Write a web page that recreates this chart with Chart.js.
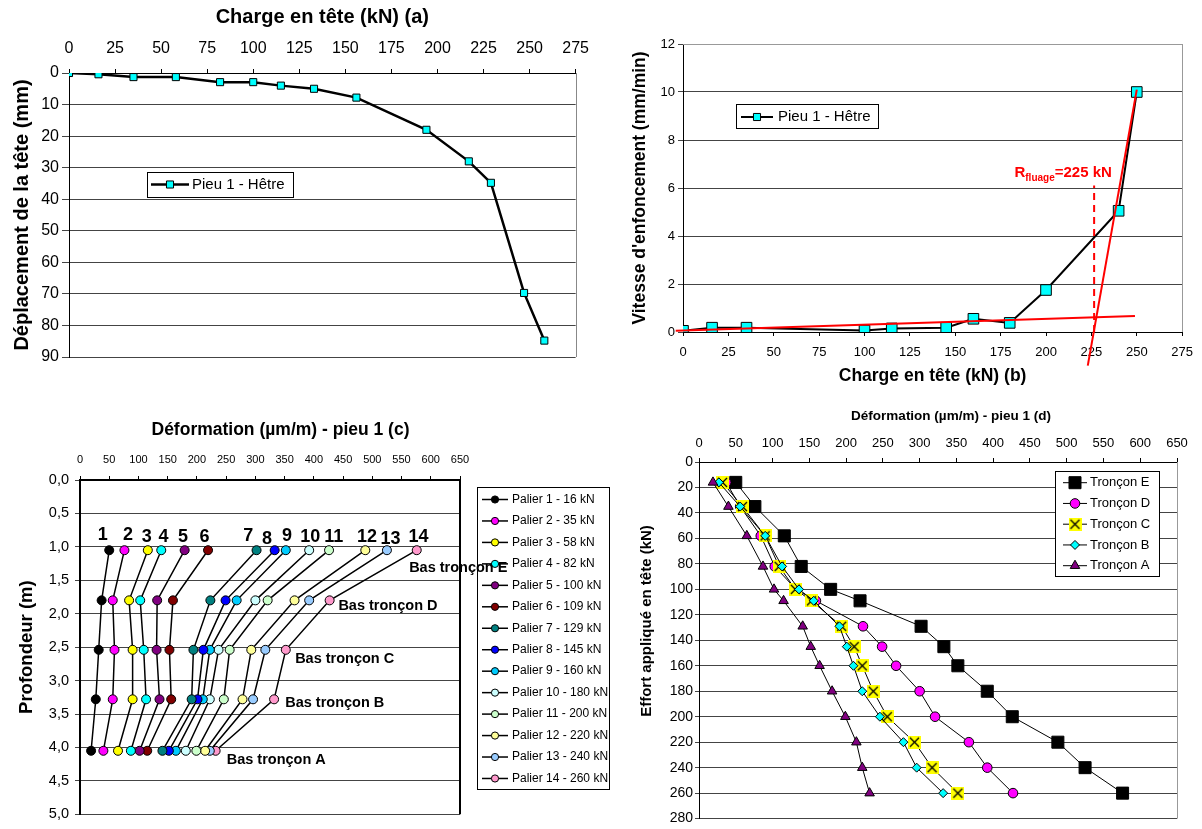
<!DOCTYPE html>
<html lang="fr">
<head>
<meta charset="utf-8">
<title>Pieu 1 - Hêtre</title>
<script src="https://cdn.jsdelivr.net/npm/chart.js@4.4.1/dist/chart.umd.min.js"></script>
<style>
  body { margin: 0; background: #fff; }
  #page { position: relative; width: 1202px; height: 829px; overflow: hidden; background: #fff; }
  canvas { position: absolute; }
</style>
</head>
<body>
<div id="page">
  <canvas id="chartA" width="600" height="375" style="left:0;top:0"></canvas>
  <canvas id="chartB" width="602" height="400" style="left:600px;top:0"></canvas>
  <canvas id="chartC" width="620" height="429" style="left:0;top:400px"></canvas>
  <canvas id="chartD" width="582" height="429" style="left:620px;top:400px"></canvas>
</div>
<script>
// (a) enfoncement en tête
const loadA = [0, 16, 35, 58, 82, 100, 115, 133, 156, 194, 217, 229, 247, 258];
const settleA = [0, 0.4, 1.3, 1.3, 2.9, 2.9, 4.0, 5.0, 7.8, 18, 28, 34.8, 69.7, 84.8];

// (b) vitesse d'enfoncement
const loadB = [0, 16, 35, 100, 115, 145, 160, 180, 200, 240, 250];
const speedB = [0.05, 0.18, 0.18, 0.06, 0.15, 0.18, 0.55, 0.38, 1.75, 5.05, 10];
const fitLow = [[-4, 0.05], [249, 0.67]];
const fitHigh = [[223, -1.4], [250, 10.1]];
const rFluage = 226.5;

// (c) / (d) deformations par palier et par tronçon
const paliers = [16, 35, 58, 82, 100, 109, 129, 145, 160, 180, 200, 220, 240, 260];
const palierColors = ["#000000", "#FF00FF", "#FFFF00", "#00FFFF", "#800080", "#800000", "#008080",
  "#0000FF", "#00CCFF", "#CCFFFF", "#CCFFCC", "#FFFF99", "#99CCFF", "#FF99CC"];
const troncons = ["E", "D", "C", "B", "A"];
const depths = [1.05, 1.8, 2.54, 3.28, 4.05];
const strainE = [50, 76, 116, 139, 179, 219, 302, 333, 352, 392, 426, 488, 525, 576];
const strainD = [37, 56, 84, 103, 132, 159, 223, 249, 268, 300, 321, 367, 392, 427];
const strainC = [32, 59, 90, 109, 131, 153, 194, 211, 222, 237, 256, 293, 317, 352];
const strainB = [27, 56, 90, 113, 136, 156, 191, 201, 210, 222, 246, 278, 296, 332];
const strainA = [19, 40, 65, 87, 102, 115, 141, 152, 164, 181, 199, 214, 222, 232];
const strains = [strainE, strainD, strainC, strainB, strainA];
// where the palier numbers sit above the top row (x in µm/m, depth in m)
const numLabelX = [39, 82, 114, 143, 176, 213, 288, 320, 354, 394, 434, 491, 531, 579];
const numLabelDepth = [0.82, 0.83, 0.86, 0.86, 0.86, 0.86, 0.84, 0.89, 0.84, 0.86, 0.86, 0.86, 0.89, 0.86];

Chart.defaults.font.family = '"Liberation Sans", Arial, sans-serif';
Chart.defaults.color = "#000";

const FONT = '"Liberation Sans", Arial, sans-serif';

function drawMarker(ctx, style, x, y, r, fill, stroke, bw) {
  ctx.save();
  if (style instanceof HTMLCanvasElement) {
    ctx.drawImage(style, x - style.width / 2, y - style.height / 2);
    ctx.restore();
    return;
  }
  ctx.fillStyle = fill;
  ctx.strokeStyle = stroke;
  ctx.lineWidth = bw;
  ctx.beginPath();
  if (style === "rect") {
    const s = r * Math.SQRT1_2;
    ctx.rect(x - s, y - s, 2 * s, 2 * s);
  } else if (style === "rectRot") {
    ctx.moveTo(x - r, y); ctx.lineTo(x, y - r); ctx.lineTo(x + r, y); ctx.lineTo(x, y + r); ctx.closePath();
  } else if (style === "triangle") {
    ctx.moveTo(x, y - r); ctx.lineTo(x + r * 0.866, y + r / 2); ctx.lineTo(x - r * 0.866, y + r / 2); ctx.closePath();
  } else {
    ctx.arc(x, y, r, 0, Math.PI * 2);
  }
  ctx.fill();
  if (bw > 0) ctx.stroke();
  ctx.restore();
}

// yellow box with a black cross (Tronçon C)
function crossBox(size) {
  const c = document.createElement("canvas");
  c.width = size; c.height = size;
  const g = c.getContext("2d");
  g.fillStyle = "#FFFF00";
  g.fillRect(0, 0, size, size);
  g.strokeStyle = "#000";
  g.lineWidth = 1.3;
  g.beginPath();
  g.moveTo(2, 2); g.lineTo(size - 2, size - 2);
  g.moveTo(size - 2, 2); g.lineTo(2, size - 2);
  g.stroke();
  return c;
}

// legends, frames, titles and texts, per canvas
const extras = {};

const overlay = {
  id: "overlay",
  beforeDatasetsDraw(chart) {
    const ex = extras[chart.canvas.id];
    if (!ex || !ex.frame) return;
    const { left, right, top, bottom } = chart.chartArea;
    const ctx = chart.ctx;
    ctx.save();
    ctx.strokeStyle = ex.frame.color;
    ctx.lineWidth = ex.frame.width;
    ctx.beginPath();
    const off = ex.frame.width % 2 ? 0.5 : 0;
    if (ex.frame.sides.includes("right")) { ctx.moveTo(Math.round(right) + off, top); ctx.lineTo(Math.round(right) + off, bottom); }
    if (ex.frame.sides.includes("top")) { ctx.moveTo(left, Math.round(top) + off); ctx.lineTo(right, Math.round(top) + off); }
    if (ex.frame.sides.includes("bottom")) { ctx.moveTo(left, Math.round(bottom) + off); ctx.lineTo(right, Math.round(bottom) + off); }
    ctx.stroke();
    ctx.restore();
  },
  afterDatasetsDraw(chart) {
    const ex = extras[chart.canvas.id];
    if (!ex || !ex.legend) return;
    const L = ex.legend;
    const ctx = chart.ctx;
    ctx.save();
    ctx.fillStyle = "#fff";
    ctx.fillRect(L.x, L.y, L.w, L.h);
    ctx.strokeStyle = "#000";
    ctx.lineWidth = 1;
    ctx.strokeRect(L.x + 0.5, L.y + 0.5, L.w, L.h);
    ctx.font = L.font;
    ctx.textBaseline = "middle";
    ctx.textAlign = "left";
    let k = 0;
    chart.data.datasets.forEach((ds) => {
      if (ds.noLegend) return;
      const y = L.y0 + k * L.dy;
      ctx.strokeStyle = ds.borderColor;
      ctx.lineWidth = ds.borderWidth;
      ctx.beginPath();
      ctx.moveTo(L.lx0, y); ctx.lineTo(L.lx1, y);
      ctx.stroke();
      drawMarker(ctx, ds.pointStyle, L.mx, y, L.r || ds.pointRadius,
        ds.pointBackgroundColor, ds.pointBorderColor, ds.pointBorderWidth);
      ctx.fillStyle = "#000";
      ctx.fillText(ds.label, L.tx, y);
      k++;
    });
    ctx.restore();
  },
  afterDraw(chart) {
    const ex = extras[chart.canvas.id];
    if (!ex) return;
    const ctx = chart.ctx;
    const sx = chart.scales.x, sy = chart.scales.y;
    ctx.save();
    (ex.titles || []).forEach((t) => {
      ctx.save();
      ctx.translate(t.px, t.py);
      if (t.rotate) ctx.rotate(t.rotate);
      ctx.font = t.font;
      ctx.fillStyle = "#000";
      ctx.textAlign = "center";
      ctx.textBaseline = "middle";
      ctx.fillText(t.text, 0, 0);
      ctx.restore();
    });
    (ex.texts || []).forEach((t) => {
      let px = sx.getPixelForValue(t.x);
      const py = sy.getPixelForValue(t.y);
      ctx.fillStyle = t.color || "#000";
      ctx.textAlign = t.align || "left";
      ctx.textBaseline = t.baseline || "middle";
      if (t.parts) {
        t.parts.forEach((p) => {
          ctx.font = p.font;
          ctx.fillText(p.text, px, py + (p.dy || 0));
          px += ctx.measureText(p.text).width;
        });
      } else {
        ctx.font = t.font;
        ctx.fillText(t.text, px, py);
      }
    });
    ctx.restore();
  }
};
Chart.register(overlay);

const base = {
  responsive: false,
  animation: false,
  events: [],
  plugins: { legend: { display: false }, tooltip: { enabled: false } }
};

// ---------- (a) ----------
extras.chartA = {
  frame: { color: "#888", width: 1, sides: ["right"] },
  legend: { x: 147, y: 172, w: 146, h: 25, y0: 184.5, dy: 0, lx0: 151, lx1: 189, mx: 170, tx: 192,
    r: 5, font: "15px " + FONT }
};
new Chart(document.getElementById("chartA"), {
  type: "scatter",
  data: {
    datasets: [{
      label: "Pieu 1 - Hêtre",
      data: loadA.map((x, i) => ({ x, y: settleA[i] })),
      showLine: true,
      borderColor: "#000",
      borderWidth: 2.5,
      pointStyle: "rect",
      pointRadius: 5,
      pointBackgroundColor: "#00FFFF",
      pointBorderColor: "#000",
      pointBorderWidth: 1
    }]
  },
  options: {
    ...base,
    layout: { padding: { top: 0, left: 0, right: 15, bottom: 18 } },
    scales: {
      x: {
        type: "linear", position: "top", min: 0, max: 275,
        ticks: { stepSize: 25, font: { size: 16 }, padding: 11, maxRotation: 0, autoSkip: false },
        grid: { drawOnChartArea: false, tickLength: 4, color: "#000" },
        border: { color: "#000" },
        title: { display: true, text: "Charge en tête (kN) (a)", font: { size: 20, weight: "bold" }, padding: { top: 5, bottom: 0 } },
        afterFit: (s) => { s.height = 73; }
      },
      y: {
        type: "linear", reverse: true, min: 0, max: 90,
        ticks: { stepSize: 10, font: { size: 16 }, padding: 3 },
        grid: { color: "#444", tickLength: 7 },
        border: { color: "#000" },
        title: { display: true, text: "Déplacement de la tête (mm)", font: { size: 20, weight: "bold" }, padding: { top: 10, bottom: 0 } },
        afterFit: (s) => { s.width = 69; }
      }
    }
  }
});

// ---------- (b) ----------
const redLine = {
  showLine: true, borderColor: "#FF0000", borderWidth: 2, pointRadius: 0,
  clip: false, noLegend: true, order: 0
};
extras.chartB = {
  frame: { color: "#999", width: 1, sides: ["right", "top"] },
  legend: { x: 136, y: 104, w: 142, h: 24, y0: 117, dy: 0, lx0: 141, lx1: 173, mx: 157, tx: 178,
    r: 5, font: "15px " + FONT },
  texts: [{
    x: 182.6, y: 6.46, color: "#FF0000", baseline: "alphabetic",
    parts: [
      { text: "R", font: "bold 15px " + FONT },
      { text: "fluage", font: "bold 10px " + FONT, dy: 4 },
      { text: "=225 kN", font: "bold 15px " + FONT }
    ]
  }]
};
new Chart(document.getElementById("chartB"), {
  type: "scatter",
  data: {
    datasets: [
      { ...redLine, label: "fit haut", data: fitHigh.map(([x, y]) => ({ x, y })) },
      { ...redLine, label: "fit bas", data: fitLow.map(([x, y]) => ({ x, y })) },
      { ...redLine, label: "R fluage", borderDash: [7, 5], data: [{ x: rFluage, y: 0 }, { x: rFluage, y: 6.1 }] },
      {
        label: "Pieu 1 - Hêtre",
        data: loadB.map((x, i) => ({ x, y: speedB[i] })),
        showLine: true,
        borderColor: "#000",
        borderWidth: 2,
        pointStyle: "rect",
        pointRadius: 7.5,
        pointBackgroundColor: "#00FFFF",
        pointBorderColor: "#000",
        pointBorderWidth: 1,
        order: 1
      }
    ]
  },
  options: {
    ...base,
    layout: { padding: { top: 44, left: 0, right: 19, bottom: 0 } },
    scales: {
      x: {
        type: "linear", position: "bottom", min: 0, max: 275,
        ticks: { stepSize: 25, font: { size: 13 }, padding: 9, maxRotation: 0, autoSkip: false },
        grid: { drawOnChartArea: false, tickLength: 4, color: "#000" },
        border: { color: "#000" },
        title: { display: true, text: "Charge en tête (kN) (b)", font: { size: 17.5, weight: "bold" }, padding: { top: 0, bottom: 13.5 } },
        afterFit: (s) => { s.height = 68; }
      },
      y: {
        type: "linear", min: 0, max: 12,
        ticks: { stepSize: 2, font: { size: 13 }, padding: 3 },
        grid: { color: "#444", tickLength: 5 },
        border: { color: "#000" },
        title: { display: true, text: "Vitesse d'enfoncement (mm/min)", font: { size: 17.5, weight: "bold" }, padding: { top: 29.5, bottom: 0 } },
        afterFit: (s) => { s.width = 83; }
      }
    }
  }
});

// ---------- (c) ----------
const bold14 = "bold 14.5px " + FONT;
extras.chartC = {
  frame: { color: "#000", width: 2, sides: ["right"] },
  legend: { x: 477, y: 87, w: 132, h: 302, y0: 99.5, dy: 21.46, lx0: 482, lx1: 508, mx: 495, tx: 512,
    r: 3.6, font: "12px " + FONT },
  titles: [{ text: "Déformation (µm/m) - pieu 1 (c)", px: 280.5, py: 30, font: "bold 17.5px " + FONT }],
  texts: paliers.map((p, i) => ({ text: String(i + 1), x: numLabelX[i], y: numLabelDepth[i], align: "center", font: "bold 18px " + FONT }))
    .concat([
      { text: "Bas tronçon E", x: 563, y: 1.31, font: bold14 },
      { text: "Bas tronçon D", x: 442, y: 1.88, font: bold14 },
      { text: "Bas tronçon C", x: 368, y: 2.68, font: bold14 },
      { text: "Bas tronçon B", x: 351, y: 3.33, font: bold14 },
      { text: "Bas tronçon A", x: 251, y: 4.19, font: bold14 }
    ])
};
new Chart(document.getElementById("chartC"), {
  type: "scatter",
  data: {
    datasets: paliers.map((p, i) => ({
      label: "Palier " + (i + 1) + " - " + p + " kN",
      data: strains.map((s, j) => ({ x: s[i], y: depths[j] })),
      showLine: true,
      borderColor: "#000",
      borderWidth: 1.5,
      pointStyle: "circle",
      pointRadius: 4.5,
      pointBackgroundColor: palierColors[i],
      pointBorderColor: "#000",
      pointBorderWidth: 1
    }))
  },
  options: {
    ...base,
    layout: { padding: { top: 0, left: 0, right: 160, bottom: 12 } },
    scales: {
      x: {
        type: "linear", position: "top", min: 0, max: 650,
        ticks: { stepSize: 50, font: { size: 11 }, padding: 9, maxRotation: 0, autoSkip: false },
        grid: { drawOnChartArea: false, tickLength: 4, color: "#000" },
        border: { color: "#000", width: 2 },
        afterFit: (s) => { s.height = 80; }
      },
      y: {
        type: "linear", reverse: true, min: 0, max: 5,
        ticks: { stepSize: 0.5, font: { size: 14.5 }, padding: 6, callback: (v) => v.toFixed(1).replace(".", ",") },
        grid: { color: "#444", tickLength: 5 },
        border: { color: "#000", width: 2 },
        title: { display: true, text: "Profondeur (m)", font: { size: 18.5, weight: "bold" }, padding: { top: 16, bottom: 0 } },
        afterFit: (s) => { s.width = 80; }
      }
    }
  }
});

// ---------- (d) ----------
const tronconStyles = [
  { pointStyle: "rect", pointRadius: 8.5, pointBackgroundColor: "#000", order: 4 },
  { pointStyle: "circle", pointRadius: 4.8, pointBackgroundColor: "#FF00FF", order: 3 },
  { pointStyle: crossBox(13), pointRadius: 6, pointBackgroundColor: "#FFFF00", order: 2 },
  { pointStyle: "rectRot", pointRadius: 4.5, pointBackgroundColor: "#00FFFF", order: 1 },
  { pointStyle: "triangle", pointRadius: 5.5, pointBackgroundColor: "#800080", order: 0 }
];
extras.chartD = {
  frame: { color: "#999", width: 1, sides: ["right"] },
  legend: { x: 435, y: 71, w: 104, h: 105, y0: 82.7, dy: 20.75, lx0: 443, lx1: 467, mx: 455, tx: 470,
    font: "13px " + FONT },
  titles: [
    { text: "Déformation (µm/m) - pieu 1 (d)", px: 331, py: 16.7, font: "bold 13.5px " + FONT },
    { text: "Effort appliqué en tête (kN)", px: 26.7, py: 221, rotate: -Math.PI / 2, font: "bold 15px " + FONT }
  ]
};
new Chart(document.getElementById("chartD"), {
  type: "scatter",
  data: {
    datasets: troncons.map((t, k) => ({
      label: "Tronçon " + t,
      data: paliers.map((p, i) => ({ x: strains[k][i], y: p })),
      showLine: true,
      borderColor: "#000",
      borderWidth: 1,
      pointBorderColor: "#000",
      pointBorderWidth: 1,
      ...tronconStyles[k]
    }))
  },
  options: {
    ...base,
    layout: { padding: { top: 0, left: 0, right: 25, bottom: 7 } },
    scales: {
      x: {
        type: "linear", position: "top", min: 0, max: 650,
        ticks: { stepSize: 50, font: { size: 13 }, padding: 7, maxRotation: 0, autoSkip: false },
        grid: { drawOnChartArea: false, tickLength: 4, color: "#000" },
        border: { color: "#000" },
        afterFit: (s) => { s.height = 62; }
      },
      y: {
        type: "linear", reverse: true, min: 0, max: 280,
        ticks: { stepSize: 20, font: { size: 14 }, padding: 2, autoSkip: false },
        grid: { color: "#444", tickLength: 4 },
        border: { color: "#000" },
        afterFit: (s) => { s.width = 79; }
      }
    }
  }
});
</script>
</body>
</html>
